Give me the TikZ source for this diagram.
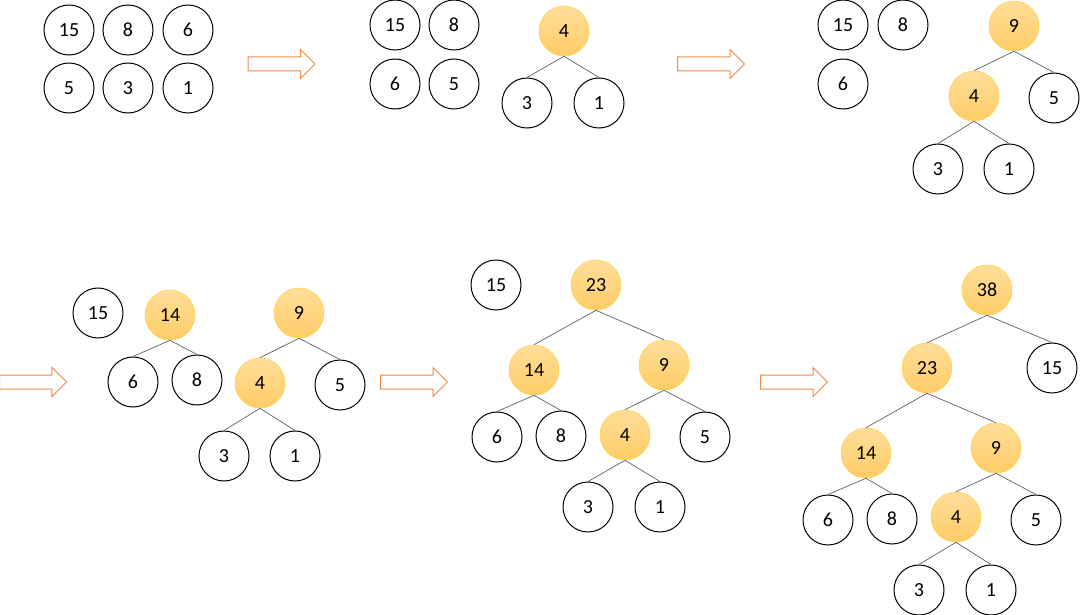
\documentclass[tikz,border=0pt]{standalone}
\usepackage{fontspec}
\setmainfont{Carlito}
\usetikzlibrary{shapes.arrows}
\definecolor{mergetop}{HTML}{FFDE9A}
\definecolor{mergebot}{HTML}{FFCC66}
\definecolor{mergeline}{HTML}{FFD34D}
\definecolor{flowline}{HTML}{F08A4B}
\begin{document}
\begin{tikzpicture}[x=1pt,y=-1pt,
  leaf/.style={circle,draw=black,line width=1pt,minimum size=50pt,inner sep=0pt,font=\fontsize{20pt}{22pt}\selectfont},
  merged/.style={leaf,draw=mergeline,line width=0.6pt,top color=mergetop,bottom color=mergebot},
  link/.style={draw=gray!75!black,line width=0.7pt},
  flow/.style={single arrow,draw=flowline,line width=1pt,fill=white,minimum width=28pt,minimum height=67pt,
    single arrow head extend=7.5pt,inner sep=0pt,text height=6.5pt,text depth=6.5pt,text width=0pt}]
\useasboundingbox (0,0) rectangle (1080,615);

% forest of single nodes
\node[leaf] (a15) at (69,30) {15};
\node[leaf] (a8) at (128,30) {8};
\node[leaf] (a6) at (188,30) {6};
\node[leaf] (a5) at (69,88) {5};
\node[leaf] (a3) at (128,88) {3};
\node[leaf] (a1) at (188,88) {1};
\node[flow] (f1) at (278,64) {};

% merge 3 + 1
\node[leaf] (b15) at (395,25) {15};
\node[leaf] (b8) at (454,25) {8};
\node[leaf] (b6) at (395,84) {6};
\node[leaf] (b5) at (454,84) {5};
\node[merged] (b4) at (564,31) {4};
\node[leaf] (b3) at (527,103) {3};
\node[leaf] (b1) at (599,103) {1};
\draw[link] (b4.south) -- (b3.north);
\draw[link] (b4.south) -- (b1.north);
\node[flow] (f2) at (707.5,64) {};

% merge 4 + 5
\node[leaf] (c15) at (843,25) {15};
\node[leaf] (c8) at (903,25) {8};
\node[leaf] (c6) at (843,84) {6};
\node[merged] (c9) at (1014,26) {9};
\node[merged] (c4) at (974,96) {4};
\node[leaf] (c5) at (1054,98) {5};
\node[leaf] (c3) at (938,169) {3};
\node[leaf] (c1) at (1009,169) {1};
\draw[link] (c9.south) -- (c4.north);
\draw[link] (c9.south) -- (c5.north);
\draw[link] (c4.south) -- (c3.north);
\draw[link] (c4.south) -- (c1.north);

% merge 6 + 8
\node[flow] (f3) at (29.5,382) {};
\node[leaf] (d15) at (98,313) {15};
\node[merged] (d14) at (170,315) {14};
\node[leaf] (d6) at (133,382) {6};
\node[leaf] (d8) at (197,380) {8};
\node[merged] (d9) at (299,313) {9};
\node[merged] (d4) at (260,383) {4};
\node[leaf] (d5) at (340,385) {5};
\node[leaf] (d3) at (224,456) {3};
\node[leaf] (d1) at (295,456) {1};
\draw[link] (d14.south) -- (d6.north);
\draw[link] (d14.south) -- (d8.north);
\draw[link] (d9.south) -- (d4.north);
\draw[link] (d9.south) -- (d5.north);
\draw[link] (d4.south) -- (d3.north);
\draw[link] (d4.south) -- (d1.north);
\node[flow] (f4) at (410.5,382) {};

% merge 14 + 9
\node[leaf] (e15) at (496,285) {15};
\node[merged] (e23) at (596,285) {23};
\node[merged] (e14) at (534,370) {14};
\node[merged] (e9) at (664,365) {9};
\node[leaf] (e6) at (497,437) {6};
\node[leaf] (e8) at (561,436) {8};
\node[merged] (e4) at (625,435) {4};
\node[leaf] (e5) at (705,437) {5};
\node[leaf] (e3) at (588,507) {3};
\node[leaf] (e1) at (660,507) {1};
\draw[link] (e23.south) -- (e14.north);
\draw[link] (e23.south) -- (e9.north);
\draw[link] (e14.south) -- (e6.north);
\draw[link] (e14.south) -- (e8.north);
\draw[link] (e9.south) -- (e4.north);
\draw[link] (e9.south) -- (e5.north);
\draw[link] (e4.south) -- (e3.north);
\draw[link] (e4.south) -- (e1.north);
\node[flow] (f5) at (790.5,382) {};

% merge 23 + 15
\node[merged] (g38) at (987,290) {38};
\node[merged] (g23) at (927,368) {23};
\node[leaf] (g15) at (1052,368) {15};
\node[merged] (g14) at (866,453) {14};
\node[merged] (g9) at (996,448) {9};
\node[leaf] (g6) at (828,520) {6};
\node[leaf] (g8) at (892,519) {8};
\node[merged] (g4) at (956,517) {4};
\node[leaf] (g5) at (1036,520) {5};
\node[leaf] (g3) at (919,590) {3};
\node[leaf] (g1) at (991,590) {1};
\draw[link] (g38.south) -- (g23.north);
\draw[link] (g38.south) -- (g15.north);
\draw[link] (g23.south) -- (g14.north);
\draw[link] (g23.south) -- (g9.north);
\draw[link] (g14.south) -- (g6.north);
\draw[link] (g14.south) -- (g8.north);
\draw[link] (g9.south) -- (g4.north);
\draw[link] (g9.south) -- (g5.north);
\draw[link] (g4.south) -- (g3.north);
\draw[link] (g4.south) -- (g1.north);
\end{tikzpicture}
\end{document}
